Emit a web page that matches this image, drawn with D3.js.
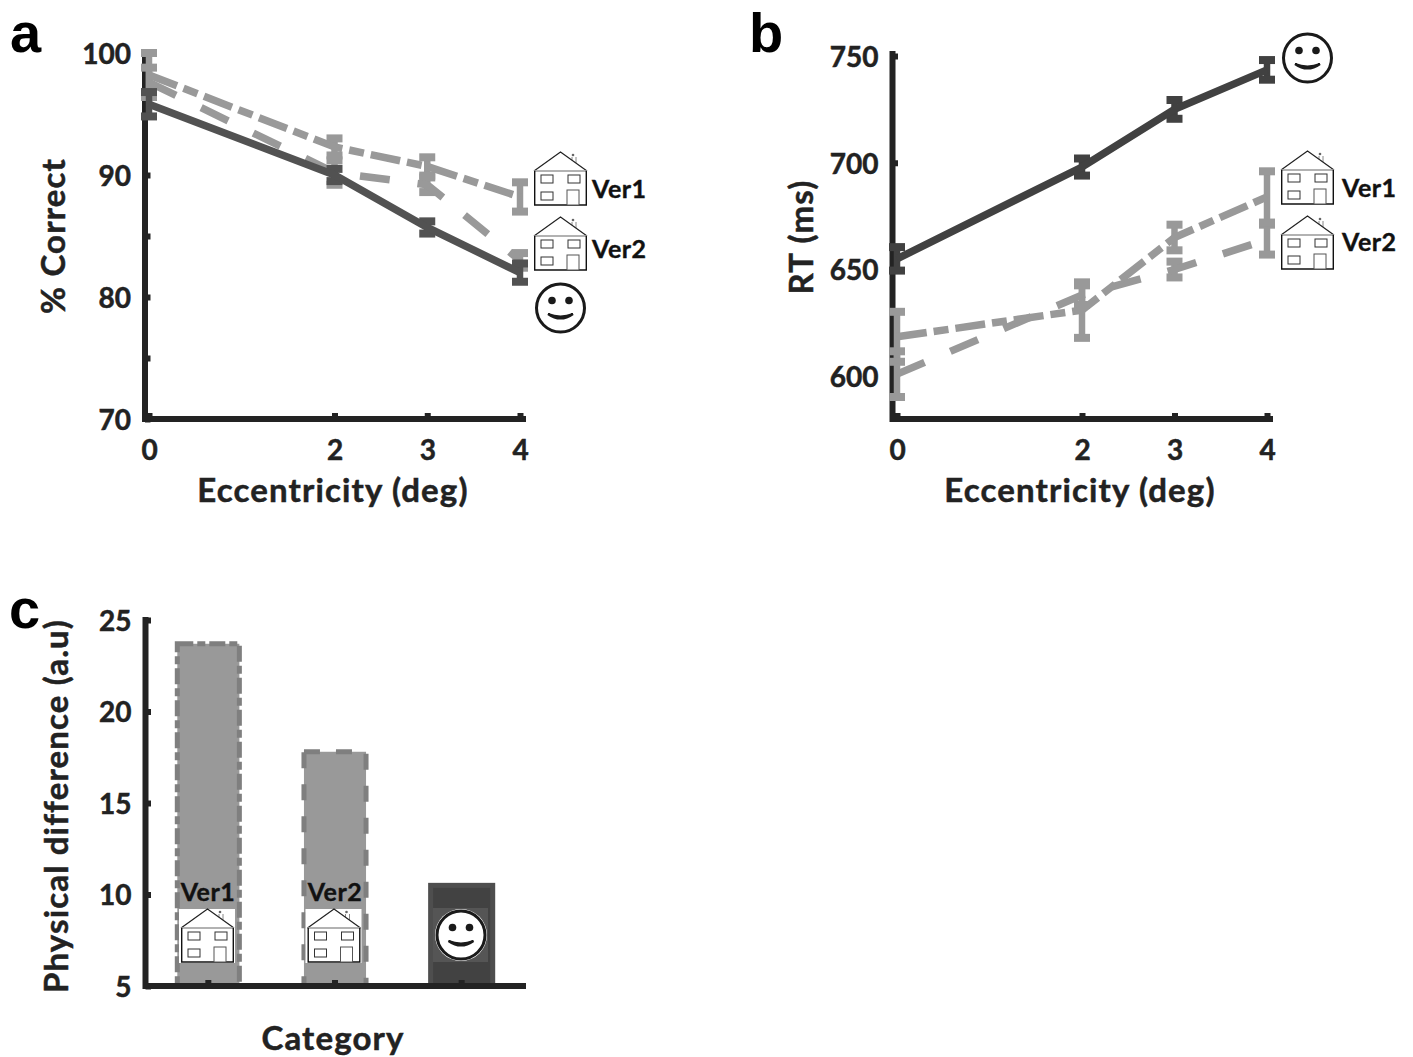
<!DOCTYPE html>
<html><head><meta charset="utf-8">
<script src="https://cdn.jsdelivr.net/npm/d3@7"></script>
<style>
html,body{margin:0;padding:0;background:#fff}
svg{display:block}
text{font-family:Lato,"Open Sans",sans-serif;font-weight:700;fill:#222;stroke:currentColor}
</style></head><body><svg id="c" width="1413" height="1057"></svg>
<script>
const eccentricity=[0,2,3,4];
const accTicks=[70,75,80,85,90,95,100];
const rtTicks=[600,650,700,750];
const diffTicks=[5,10,15,20,25];
const accVer1=[98.2,92.3,90.7,88.2], accVer1Err=[1.8,0.7,0.75,1.2];
const accVer2=[97.6,90.2,89.2,83.0], accVer2Err=[1.2,1.0,0.6,0.6];
const accFace=[95.8,90.0,85.7,82.0], accFaceErr=[1.0,0.5,0.5,0.75];
const rtVer1=[618.5,631,665,684], rtVer1Err=[11.7,13,6,12];
const rtVer2=[601,638,650,664], rtVer2Err=[10.7,4.6,3.7,7];
const rtFace=[655,698,725,743.5], rtFaceErr=[5.5,4,4.4,4.6];
const categories=["Ver1","Ver2","Face"];
const diffValues=[23.7,17.8,10.5];

const GRAY="#999",DARK_A="#525252",DARK_B="#414141",AXIS="#232323";
const DASHDOT="30 7 15 7",DASH="30 28";
const svg=d3.select("#c");

function house(g,left,top,bg){
  const h=g.append("g").attr("transform",`translate(${left},${top})`);
  if(bg) h.append("rect").attr("x",-2).attr("y",0).attr("width",56).attr("height",54).attr("fill","#fff");
  h.append("path").attr("d","M38,5V14M42,5V17").attr("stroke","#888").attr("stroke-width",1).attr("fill","none");
  h.append("circle").attr("cx",39).attr("cy",3).attr("r",1.3).attr("fill","#666");
  h.append("path").attr("d","M0,19L26.5,0L53,19").attr("fill","#fff").attr("stroke","#222").attr("stroke-width",1.2);
  h.append("path").attr("d","M0,19H53").attr("stroke","#999").attr("stroke-width",1.5);
  h.append("path").attr("d","M0.7,19V53H52.3V19").attr("fill","none").attr("stroke","#111").attr("stroke-width",1.4);
  [[7,23,12,8],[34,23,12,8],[7,40,12,8]].forEach(w=>h.append("rect").attr("x",w[0]).attr("y",w[1]).attr("width",w[2]).attr("height",w[3]).attr("fill","#fff").attr("stroke","#333").attr("stroke-width",1));
  h.append("rect").attr("x",33).attr("y",38).attr("width",12).attr("height",15).attr("fill","#fff").attr("stroke","#555").attr("stroke-width",1);
}
function smiley(g,cx,cy,halo){
  const s=g.append("g").attr("transform",`translate(${cx},${cy})`);
  if(halo) s.append("circle").attr("r",26).attr("fill","#fff");
  s.append("circle").attr("r",24).attr("fill","#fff").attr("stroke","#1a1a1a").attr("stroke-width",3);
  [-8.5,8.5].forEach(x=>s.append("circle").attr("cx",x).attr("cy",-7.5).attr("r",3.8).attr("fill","#1a1a1a"));
  s.append("path").attr("d","M-12.5,6Q0,15 12.5,6Q0,11 -12.5,6Z").attr("fill","#1a1a1a").attr("stroke","#1a1a1a").attr("stroke-width",2.2);
}
function label(x,y,s){
  return svg.append("text").attr("x",x).attr("y",y).attr("font-size",25).attr("text-anchor",arguments[3]||"start")
    .style("fill","#111").style("stroke","#111").style("stroke-width",0.4).style("letter-spacing","0.5px").text(s);
}
function title(x,y,s){
  return svg.append("text").attr("x",x).attr("y",y).attr("font-size",33).attr("text-anchor","middle")
    .style("fill","#222").style("stroke","#222").style("stroke-width",0.5).style("letter-spacing","1.15px").text(s);
}
function vtitle(x,y,s){
  return svg.append("text").attr("transform",`translate(${x},${y}) rotate(-90)`).attr("font-size",33).attr("text-anchor","middle")
    .style("fill","#222").style("stroke","#222").style("stroke-width",0.5).style("letter-spacing","1.15px").text(s);
}
function panelLetter(x,y,s){
  return svg.append("text").attr("x",x).attr("y",y).attr("font-size",56).attr("text-anchor","start")
    .style("font-family","'Liberation Sans'").style("fill","#000").style("stroke","#000").style("stroke-width",0).text(s);
}
function styleAxis(g){
  g.select(".domain").remove();
  g.selectAll(".tick line").attr("stroke",AXIS).attr("stroke-width",6);
  g.selectAll(".tick text").attr("font-size",28).style("fill","#222").style("stroke","#222").style("stroke-width",0.5).attr("font-family","Lato");
}
function axes(x,y,axisX,baseY,topY,rightX,yTicks,labelled,xAxisGen){
  const gy=svg.append("g").attr("transform",`translate(${axisX},0)`)
    .call(d3.axisLeft(y).tickValues(yTicks).tickSize(-5.5).tickPadding(14).tickFormat(v=>labelled.includes(v)?v:""));
  styleAxis(gy);
  gy.selectAll(".tick text").attr("transform","translate(0,1.5)");
  const gx=svg.append("g").attr("transform",`translate(0,${baseY})`)
    .call(xAxisGen.tickSize(-6).tickPadding(21));
  styleAxis(gx);
  svg.append("path").attr("d",`M${axisX},${topY}V${baseY+3}M${axisX-3},${baseY}H${rightX}`).attr("fill","none").attr("stroke",AXIS).attr("stroke-width",6);
}
function series(x,y,vals,errs,color,dash){
  const pts=vals.map((v,i)=>({x:eccentricity[i],v,e:errs[i]}));
  const g=svg.append("g");
  pts.forEach(p=>{
    const cx=x(p.x);
    g.append("line").attr("x1",cx).attr("x2",cx).attr("y1",y(p.v-p.e)).attr("y2",y(p.v+p.e)).attr("stroke",color).attr("stroke-width",6.5);
    [p.v-p.e,p.v+p.e].forEach(b=>g.append("line").attr("x1",cx-8).attr("x2",cx+8).attr("y1",y(b)).attr("y2",y(b)).attr("stroke",color).attr("stroke-width",8));
  });
  g.append("path").attr("d",d3.line().x(p=>x(p.x)).y(p=>y(p.v))(pts)).attr("fill","none").attr("stroke",color).attr("stroke-width",7.5).attr("stroke-dasharray",dash||null);
}

/* panel a */
const xa=d3.scaleLinear().domain([0,4]).range([149,520]);
const ya=d3.scaleLinear().domain([70,100]).range([419,53]);
axes(xa,ya,145,419,50,526,accTicks,[70,80,90,100],d3.axisBottom(xa).tickValues(eccentricity).tickFormat(d3.format("d")));
series(xa,ya,accVer2,accVer2Err,GRAY,DASH);
series(xa,ya,accVer1,accVer1Err,GRAY,DASHDOT);
series(xa,ya,accFace,accFaceErr,DARK_A,null);
house(svg,534,152); house(svg,534,217); smiley(svg,560.5,308);
label(592,198,"Ver1"); label(592,258,"Ver2");
panelLetter(10,52,"a");
vtitle(65,236,"% Correct");
title(333,502,"Eccentricity (deg)");

/* panel b */
const xb=d3.scaleLinear().domain([0,4]).range([897,1267]);
const yb=d3.scaleLinear().domain([580,750]).range([419,56]);
axes(xb,yb,892.5,419,51,1273,rtTicks,rtTicks,d3.axisBottom(xb).tickValues(eccentricity).tickFormat(d3.format("d")));
series(xb,yb,rtVer2,rtVer2Err,GRAY,DASH);
series(xb,yb,rtVer1,rtVer1Err,GRAY,DASHDOT);
series(xb,yb,rtFace,rtFaceErr,DARK_B,null);
house(svg,1281,151); house(svg,1281,216); smiley(svg,1307.5,58);
label(1342,197,"Ver1"); label(1342,251,"Ver2");
panelLetter(749,52,"b");
vtitle(813,237,"RT (ms)");
title(1080,502,"Eccentricity (deg)");

/* panel c */
const xc=d3.scaleBand().domain(categories).range([145,525]).paddingInner(0.51).paddingOuter(0.255);
const yc=d3.scaleLinear().domain([5,25]).range([986,620]);
const barStyle={Ver1:["#999","#7f7f7f","16 4 8 4"],Ver2:["#999","#7f7f7f","16 16"],Face:["#424242","#4e4e4e",null]};
svg.append("g").selectAll("rect").data(categories).join("rect")
  .attr("x",d=>xc(d)).attr("width",xc.bandwidth())
  .attr("y",(d,i)=>yc(diffValues[i])).attr("height",(d,i)=>yc(5)-yc(diffValues[i]))
  .attr("fill",d=>barStyle[d][0]).attr("stroke",d=>barStyle[d][1]).attr("stroke-width",5)
  .attr("stroke-dasharray",d=>barStyle[d][2]);
svg.append("rect").attr("x",433).attr("y",908).attr("width",55).attr("height",54).attr("fill","#555");
axes(xc,yc,145.5,986,617,526,diffTicks,diffTicks,d3.axisBottom(xc).tickFormat(""));
house(svg,181,909,true); house(svg,307.5,909,true); smiley(svg,461,935,true);
label(208,901,"Ver1","middle"); label(335,901,"Ver2","middle");
panelLetter(9,628,"c");
vtitle(68,806,"Physical difference (a.u)");
title(333,1050,"Category");
</script></body></html>
